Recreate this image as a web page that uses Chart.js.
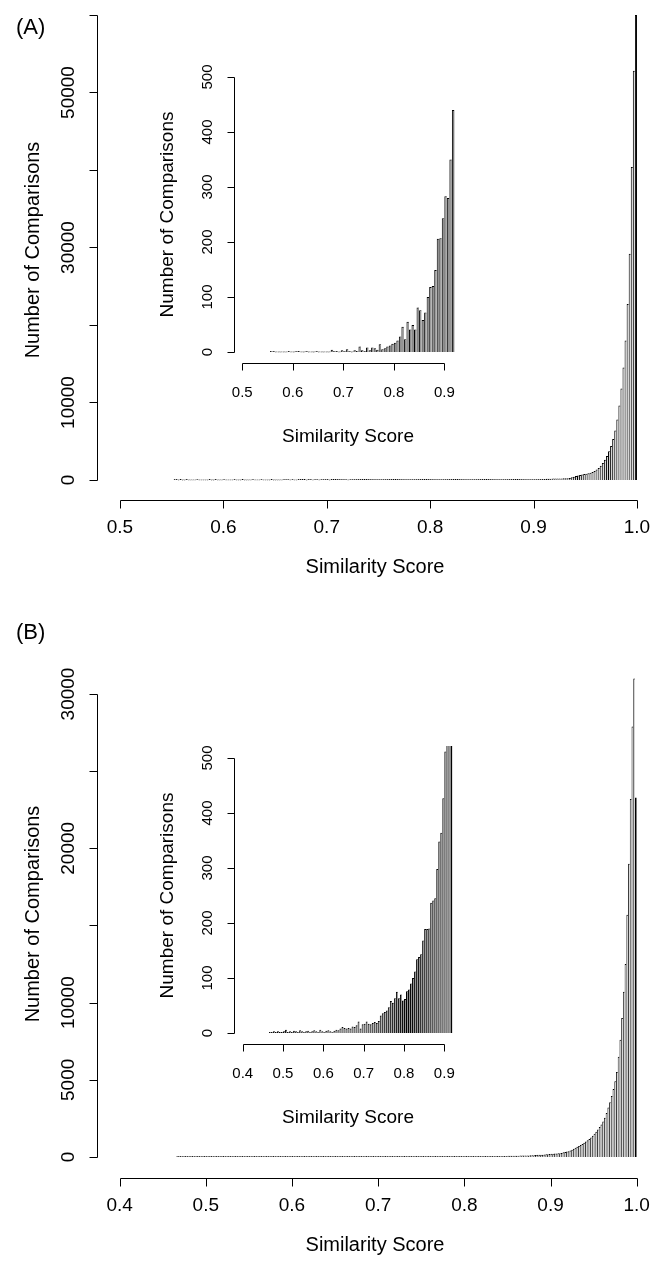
<!DOCTYPE html>
<html><head><meta charset="utf-8">
<script src="https://cdn.jsdelivr.net/npm/chart.js@4"></script>
<style>
html,body{margin:0;padding:0;background:#fff;}
#page{position:relative;width:653px;height:1263px;overflow:hidden;background:#fff;}
.c{position:absolute;}
.tag{position:absolute;font:22px "Liberation Sans",Arial,sans-serif;color:#000;line-height:1;}
</style></head><body>
<div id="page">
<canvas id="mainA" class="c" width="653" height="600" style="left:0px;top:0px"></canvas>
<canvas id="insetA" class="c" width="320" height="420" style="left:150px;top:40px"></canvas>
<canvas id="mainB" class="c" width="653" height="663" style="left:0px;top:600px"></canvas>
<canvas id="insetB" class="c" width="320" height="420" style="left:150px;top:720px"></canvas>
<div class="tag" style="left:16px;top:16px">(A)</div>
<div class="tag" style="left:16px;top:621px">(B)</div>
</div>
<script>
// ---------- data ----------
// Panel A, main histogram: bins of width 0.002 starting at 0.552
const binStartA = 0.552, binWidthA = 0.002;
const countsA = [
1,1,0,1,0,0,1,0,0,0, 0,1,0,0,0,0,0,1,0,0, 1,0,0,0,1,0,0,0,0,1, 0,0,0,1,0,0,0,0,1,0,
0,0,1,0,0,0,0,1,0,0, 0,0,0,2,1,1,0,1,0,0, 1,2,1,1,0,1,1,0,1,2, 0,1,2,1,1,0,2,1,1,3,
4,2,1,1,0,1,1,2,2,3, 1,1,3,1,2,3,2,3,4,3,
3,3,3,3,3,2,2,2,3,6, 5,3,2,2,3,3,4,4,4,5, 5,6,6,6,7,7,8,8,9,11, 12,17,18,14,9,10,20,22,21,16,
17,19,20,18,16,17,28,32,31,30,
28,25,23,24,29,31,38,40,44,47, 47,48,49,55,60,66,80,82,83,83, 88,96,98,106,113,112,112,120,133,140,
145,160,176,178,
182,186,192,200,210,222,240,262,340,430, 520,580,640,700,760,800,870,940,1030,1150,
1350,1550,1850,2200,2600,3100,3700,4400,5300,6400, 7800,9600,11800,14500,18000,22700,29200,40400,52800,60000
];
const yTicksA = [0,10000,20000,30000,40000,50000,60000];
const yLabelsA = ['0','10000','','30000','','50000',''];
const xTicksA = [0.5,0.6,0.7,0.8,0.9,1.0];
const xLabelsA = ['0.5','0.6','0.7','0.8','0.9','1.0'];

// Panel A, inset histogram: bins of width 0.005 starting at 0.555
const binStartAi = 0.555, binWidthAi = 0.005;
const countsAi = [
2,1,0,0,0,0,0,1,0,0, 2,1,0,0,1,0,0,0,1,0, 0,0,0,0,4,2,1,0,3,1,
5,1,0,3,2,10,3,1,8,3, 8,7,4,14,5,7,10,12,15,17, 21,28,46,23,55,41,49,41,81,76,
58,72,100,118,120,149,206,207,243,283, 280,350,440
];
const yTicksAi = [0,100,200,300,400,500];
const yLabelsAi = ['0','100','200','300','400','500'];
const xTicksAi = [0.5,0.6,0.7,0.8,0.9];
const xLabelsAi = ['0.5','0.6','0.7','0.8','0.9'];

// Panel B, main histogram: bins of width 0.002 starting at 0.466
const binStartB = 0.466, binWidthB = 0.002;
const countsB = [
1,1,2,1,1,2,1,1,1,2, 1,1,1,2,2,1,1,1,2,1, 1,2,1,1,1,2,2,1,1,1, 1,2,1,2,1,1,1,2,1,1,
2,1,2,1,2,2,1,2,2,1, 2,2,1,2,1,2,2,2,3,2, 2,3,2,2,3,2,3,
2,3,2,3,3,2,3,4,3,3, 4,3,3,4,3,4,4,3,4,5, 4,3,4,4,5,4,3,4,4,5, 4,4,5,3,4,4,5,8,8,6,
6,7,6,5,4,3,3,7,8,8, 6,6,7,7,8,7,7,6,7,6, 7,7,8,7,7,9,9,8,11,13, 13,14,15,16,15,17,19,19,18,21,
22,23,22,24,23,22,25,28,30,30, 29,28,28,27,25,26,25,24,24,25,
25,26,28,30,31,32,33,36,37,38, 40,42,44,45,50,54,54,55,56,57, 57,60,66,68,72,76,76,76,77,76,
77,85,95,95,96,96,97,98,105,115, 119,128,139,140,144,146,155,171,175,190, 205,212,224,228,236,244,260,300,330,
350,380,420,470,530,600,660,720,780,850, 930,1000,1080,1170,1270,1380,1500,1630,1780,1940,
2100,2300,2550,2850,3200,3550,3950,4400,4900,5500, 6500,7600,9000,10700,12500,15700,19000,23200,27900,31000,
23300
];
const yTicksB = [0,5000,10000,15000,20000,25000,30000];
const yLabelsB = ['0','5000','10000','','20000','','30000'];
const xTicksB = [0.4,0.5,0.6,0.7,0.8,0.9,1.0];
const xLabelsB = ['0.4','0.5','0.6','0.7','0.8','0.9','1.0'];

// Panel B, inset histogram: bins of width 0.005 starting at 0.465
const binStartBi = 0.465, binWidthBi = 0.005;
const countsBi = [
1,2,3,2,3,2,2,3,6,2, 3,2,4,3,2,5,3,2,3,4, 2,3,5,3,2,6,3,2,4,5, 3,2,4,6,5,
8,11,9,8,9,8,12,11,14,21, 8,16,17,21,17,16,18,20,18,22, 32,36,38,41,47,58,55,63,75,63,
70,59,62,76,79,90,100,112,134,138, 143,168,189,189,190,237,241,245,298,348, 364,427,512,560,610,590
];
const yTicksBi = [0,100,200,300,400,500];
const yLabelsBi = ['0','100','200','300','400','500'];
const xTicksBi = [0.4,0.5,0.6,0.7,0.8,0.9];
const xLabelsBi = ['0.4','0.5','0.6','0.7','0.8','0.9'];

const xTitle = 'Similarity Score';
const yTitle = 'Number of Comparisons';

// ---------- rendering ----------
const FONT = '"Liberation Sans", Arial, sans-serif';
Chart.defaults.font.family = FONT;
const AX = {};

const rAxes = {
  id: 'rAxes',
  afterDraw(chart) {
    const o = AX[chart.canvas.id];
    if (!o) return;
    const ctx = chart.ctx, ca = chart.chartArea;
    const xs = chart.scales.x, ys = chart.scales.y;
    ctx.save();
    ctx.strokeStyle = '#000'; ctx.fillStyle = '#000'; ctx.lineWidth = 1;
    const ax = Math.round(ca.left) + 0.5;
    const ay = Math.round(ca.bottom) + 0.5;
    const yp = v => Math.round(ys.getPixelForValue(v)) + 0.5;
    const xp = v => Math.round(xs.getPixelForValue(v)) + 0.5;
    ctx.beginPath();
    ctx.moveTo(ax, yp(o.yTicks[0])); ctx.lineTo(ax, yp(o.yTicks[o.yTicks.length - 1]));
    o.yTicks.forEach(v => { ctx.moveTo(ax, yp(v)); ctx.lineTo(ax - o.tick, yp(v)); });
    ctx.moveTo(xp(o.xTicks[0]), ay); ctx.lineTo(xp(o.xTicks[o.xTicks.length - 1]), ay);
    o.xTicks.forEach(v => { ctx.moveTo(xp(v), ay); ctx.lineTo(xp(v), ay + o.tick); });
    ctx.stroke();
    ctx.textAlign = 'center'; ctx.textBaseline = 'middle';
    ctx.font = o.tickFont;
    o.yTicks.forEach((v, i) => {
      const t = o.yLabels[i]; if (!t) return;
      ctx.save(); ctx.translate(ca.left - o.yLab, ys.getPixelForValue(v)); ctx.rotate(-Math.PI / 2);
      ctx.fillText(t, 0, 0); ctx.restore();
    });
    o.xTicks.forEach((v, i) => ctx.fillText(o.xLabels[i], xs.getPixelForValue(v), ca.bottom + o.xLab));
    ctx.font = o.titleFont;
    ctx.fillText(o.xTitle, (ca.left + ca.right) / 2, ca.bottom + o.xTit);
    ctx.save(); ctx.translate(ca.left - o.yTit, (ca.top + ca.bottom) / 2); ctx.rotate(-Math.PI / 2);
    ctx.fillText(o.yTitle, 0, 0); ctx.restore();
    ctx.restore();
  }
};

function makeHist(id, counts, start, width, xr, yr, pad, ax, fill) {
  AX[id] = ax;
  const pts = counts.map((c, i) => ({ x: start + (i + 0.5) * width, y: c }));
  const n = counts.length;
  return new Chart(document.getElementById(id), {
    type: 'bar',
    data: { datasets: [{
      data: pts,
      backgroundColor: fill,
      borderColor: '#000',
      borderWidth: c => ({ left: 1, top: 1, bottom: 0, right: c.dataIndex === n - 1 ? 1 : 0 }),
      borderSkipped: false,
      barPercentage: 1, categoryPercentage: 1,
      minBarLength: 1, inflateAmount: 0, clip: 1
    }]},
    options: {
      responsive: false, animation: false, devicePixelRatio: 1,
      layout: { padding: pad },
      plugins: { legend: { display: false }, tooltip: { enabled: false }, title: { display: false } },
      scales: {
        x: { type: 'linear', display: false, min: xr[0], max: xr[1], offset: false, bounds: 'data' },
        y: { type: 'linear', display: false, min: yr[0], max: yr[1], bounds: 'data', beginAtZero: false }
      }
    },
    plugins: [rAxes]
  });
}

const mainStyle = { tick: 8, yLab: 28, yTit: 64, xLab: 28, xTit: 67,
  tickFont: '19px ' + FONT, titleFont: '20px ' + FONT, xTitle, yTitle };
const insetStyle = { tick: 7, yLab: 26, yTit: 66, xLab: 30, xTit: 74,
  tickFont: '15px ' + FONT, titleFont: '19px ' + FONT, xTitle, yTitle };

makeHist('mainA', countsA, binStartA, binWidthA, [0.4778, 1.0155], [-2581, 61935],
  { left: 97, top: 0, right: 0, bottom: 100 },
  Object.assign({ yTicks: yTicksA, yLabels: yLabelsA, xTicks: xTicksA, xLabels: xLabelsA }, mainStyle), '#d3d3d3');

makeHist('insetA', countsAi, binStartAi, binWidthAi, [0.4836, 0.935], [-20, 520],
  { left: 84, top: 26, right: 8, bottom: 97 },
  Object.assign({ yTicks: yTicksAi, yLabels: yLabelsAi, xTicks: xTicksAi, xLabels: xLabelsAi }, insetStyle), '#909090');

makeHist('mainB', countsB, binStartB, binWidthB, [0.3738, 1.0189], [-1361, 32851],
  { left: 97, top: 50, right: 0, bottom: 85 },
  Object.assign({ yTicks: yTicksB, yLabels: yLabelsB, xTicks: xTicksB, xLabels: xLabelsB }, mainStyle), '#d3d3d3');

makeHist('insetB', countsBi, binStartBi, binWidthBi, [0.3784, 0.9439], [-20, 520],
  { left: 84, top: 27, right: 8, bottom: 96 },
  Object.assign({ yTicks: yTicksBi, yLabels: yLabelsBi, xTicks: xTicksBi, xLabels: xLabelsBi }, insetStyle), '#909090');
</script>
</body></html>
